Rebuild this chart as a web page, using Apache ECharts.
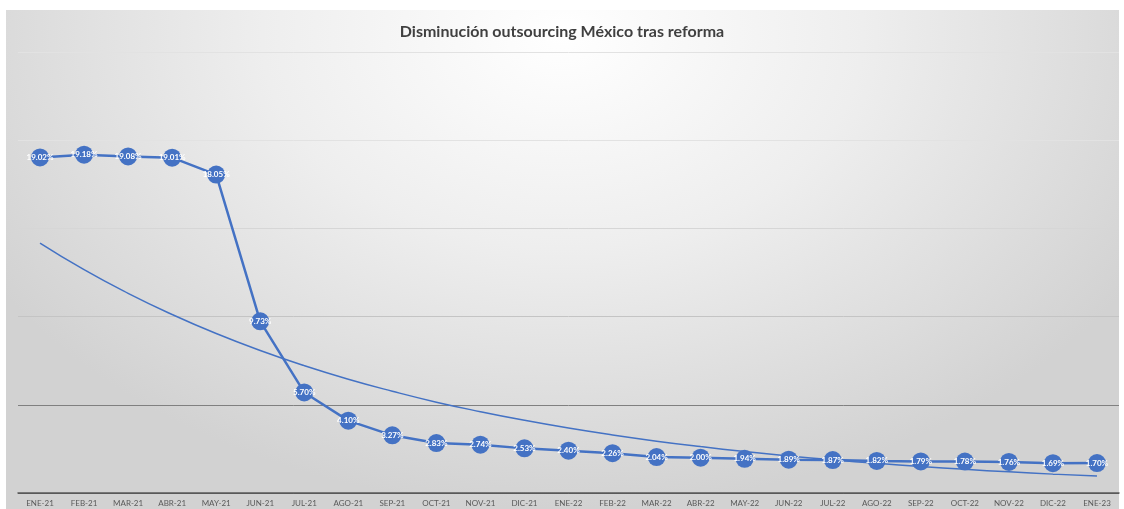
<!DOCTYPE html>
<html>
<head>
<meta charset="utf-8">
<script src="https://cdn.jsdelivr.net/npm/echarts@6/dist/echarts.min.js"></script>
<style>
html,body{margin:0;padding:0;background:#fff;width:1124px;height:509px;overflow:hidden;}
#bg{position:absolute;left:6px;top:10px;width:1113px;height:499px;
 background: radial-gradient(ellipse 60% 95% at 50% 5%, #ffffff 0%, #eeeeee 45%, #d2d2d2 100%);}
#chart{position:absolute;left:0;top:0;width:1124px;height:509px;}
</style>
</head>
<body>
<div id="bg"></div>
<div id="chart"></div>
<script>
const categories = ['ENE-21','FEB-21','MAR-21','ABR-21','MAY-21','JUN-21','JUL-21','AGO-21','SEP-21','OCT-21','NOV-21','DIC-21',
  'ENE-22','FEB-22','MAR-22','ABR-22','MAY-22','JUN-22','JUL-22','AGO-22','SEP-22','OCT-22','NOV-22','DIC-22','ENE-23'];
const outsourcing = [19.02,19.18,19.08,19.01,18.05,9.73,5.70,4.10,3.27,2.83,2.74,2.53,
  2.40,2.26,2.04,2.00,1.94,1.89,1.87,1.82,1.79,1.78,1.76,1.69,1.70];
const trend = [14.17,12.66,11.32,10.12,9.04,8.08,7.22,6.45,5.77,5.15,4.61,4.12,
  3.68,3.29,2.94,2.63,2.35,2.10,1.88,1.68,1.50,1.34,1.20,1.07,0.96];

const chart = echarts.init(document.getElementById('chart'), null, {renderer:'canvas'});
chart.setOption({
  backgroundColor: 'transparent',
  animation: false,
  title: {
    text: 'Disminución outsourcing México tras reforma',
    left: 'center', top: 19,
    textStyle: {fontFamily: 'Lato', fontSize: 16, fontWeight: 'bold', color: '#404040'}
  },
  grid: {left: 18, right: 5, top: 52, bottom: 16},
  xAxis: {
    type: 'category', data: categories, boundaryGap: true,
    axisLine: {lineStyle: {color: '#595959', width: 1.5}},
    axisTick: {show: false},
    axisLabel: {fontFamily: 'Lato', fontSize: 8, color: '#595959', margin: 6, interval: 0}
  },
  yAxis: {
    type: 'value', min: 0, max: 25, interval: 5,
    axisLabel: {show: false}, axisLine: {show: false}, axisTick: {show: false},
    splitLine: {lineStyle: {color: ['#595959','#808080','#c4c4c4','#d6d6d6','#e2e2e2','#e2e2e2'], width: 1}}
  },
  series: [
    {
      name: 'Outsourcing', type: 'line', data: outsourcing,
      symbol: 'circle', symbolSize: 18,
      lineStyle: {color: '#4472c4', width: 2.5},
      itemStyle: {color: '#4472c4'},
      label: {show: true, position: 'inside', color: '#ffffff', fontFamily: 'Lato', fontSize: 8, fontWeight: 'bold',
        formatter: p => p.value.toFixed(2) + '%'},
      z: 3
    },
    {
      name: 'Tendencia', type: 'line', data: trend, smooth: true,
      symbol: 'none',
      lineStyle: {color: '#4472c4', width: 1.5},
      z: 2
    }
  ]
});
</script>
</body>
</html>
